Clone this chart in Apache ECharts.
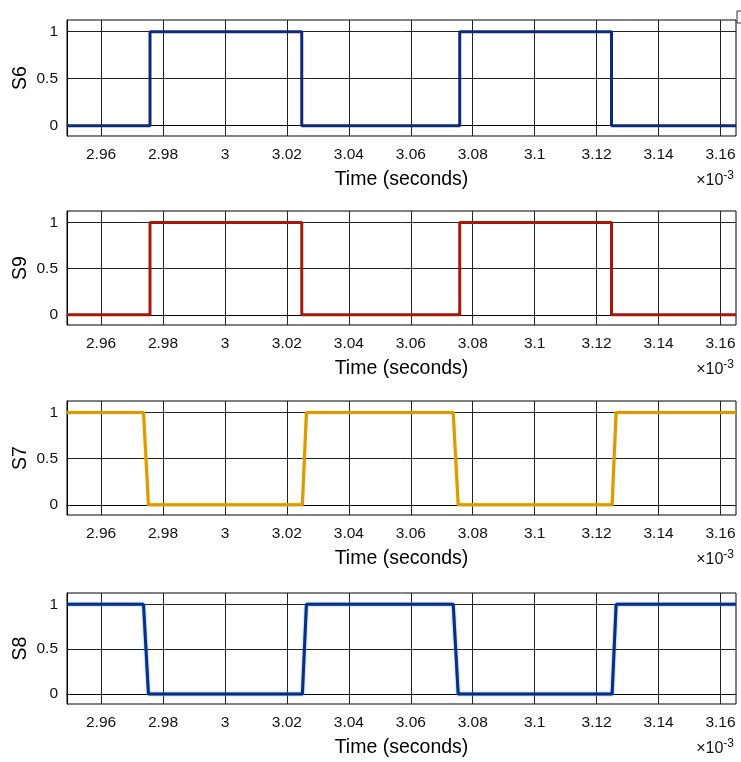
<!DOCTYPE html>
<html>
<head>
<meta charset="utf-8">
<script src="https://cdn.jsdelivr.net/npm/echarts@6/dist/echarts.min.js"></script>
<style>
  html, body { margin: 0; padding: 0; background: #fff; }
  #chart { width: 741px; height: 762px; }
</style>
</head>
<body>
<div id="chart"></div>
<script>
// Time axis in units of 1e-3 s
const xMin = 2.949;
const xMax = 3.165;
const xTicks = [2.96, 2.98, 3.00, 3.02, 3.04, 3.06, 3.08, 3.10, 3.12, 3.14, 3.16];
const yTicks = [0, 0.5, 1];

// Switching signals: breakpoints (time) and levels
const tS6 = [2.949, 2.9758, 2.9758, 3.0248, 3.0248, 3.0758, 3.0758, 3.1248, 3.1248, 3.165];
const vS6 = [0, 0, 1, 1, 0, 0, 1, 1, 0, 0];

const tS9 = [2.949, 2.9758, 2.9758, 3.0248, 3.0248, 3.0758, 3.0758, 3.1248, 3.1248, 3.165];
const vS9 = [0, 0, 1, 1, 0, 0, 1, 1, 0, 0];

const tS7 = [2.949, 2.9737, 2.9753, 3.0250, 3.0263, 3.0737, 3.0753, 3.1250, 3.1263, 3.165];
const vS7 = [1, 1, 0, 0, 1, 1, 0, 0, 1, 1];

const tS8 = [2.949, 2.9737, 2.9753, 3.0250, 3.0263, 3.0737, 3.0753, 3.1250, 3.1263, 3.165];
const vS8 = [1, 1, 0, 0, 1, 1, 0, 0, 1, 1];

const names = ['S6', 'S9', 'S7', 'S8'];
const times = [tS6, tS9, tS7, tS8];
const levels = [vS6, vS9, vS7, vS8];
const colors = ['#0c2a78', '#a8180a', '#d99a06', '#0a2f80'];

// panel layout
const panels = [
  { top: 20, height: 116 },
  { top: 211, height: 114 },
  { top: 401, height: 114 },
  { top: 593, height: 111 }
];
const left = 67, right = 5;
const font = 'Liberation Sans, Arial, Helvetica, sans-serif';

const fmt = v => String(+(+v).toFixed(2));

const grids = [], xAxes = [], yAxes = [], series = [], graphics = [];
panels.forEach((p, i) => {
  grids.push({
    left: left, right: right, top: p.top, height: p.height,
    containLabel: false, outerBoundsMode: 'none',
    show: true, borderColor: '#000', borderWidth: 1, backgroundColor: '#fff'
  });
  xAxes.push({
    type: 'value', gridIndex: i, min: xMin, max: xMax,
    name: 'Time (seconds)', nameLocation: 'middle', nameGap: 34,
    nameTextStyle: { fontFamily: font, fontSize: 19.5, color: '#000' },
    axisLine: { show: true, lineStyle: { color: '#000', width: 1 } },
    axisTick: { show: true, inside: true, length: 3, customValues: xTicks, lineStyle: { color: '#222' } },
    axisLabel: { customValues: xTicks, formatter: fmt, fontFamily: font, fontSize: 15.5, color: '#111', margin: 11 },
    splitLine: { show: true, lineStyle: { color: '#222', width: 1 } }
  });
  yAxes.push({
    type: 'value', gridIndex: i, min: -0.11, max: 1.125,
    axisLine: { show: true, lineStyle: { color: '#000', width: 1 } },
    axisTick: { show: true, inside: true, length: 3, customValues: yTicks, lineStyle: { color: '#222' } },
    axisLabel: { customValues: yTicks, formatter: fmt, fontFamily: font, fontSize: 15.5, color: '#111', margin: 9 },
    splitLine: { show: true, lineStyle: { color: '#222', width: 1 } }
  });
  const pts = times[i].map((t, k) => [t, levels[i][k]]);
  const ls = { color: colors[i], width: 3 };
  if (i === 3) { ls.shadowColor = 'rgba(60,140,230,0.9)'; ls.shadowBlur = 2; }
  if (i === 2) { ls.shadowColor = 'rgba(245,190,40,0.8)'; ls.shadowBlur = 1.5; }
  series.push({
    type: 'line', xAxisIndex: i, yAxisIndex: i, data: pts,
    showSymbol: false, symbol: 'none', animation: false,
    lineStyle: ls, clip: true
  });
  // vertical signal name beside each panel
  graphics.push({
    type: 'text', x: 21, y: p.top + p.height / 2, rotation: Math.PI / 2,
    style: {
      text: names[i], font: '19.5px ' + font, fill: '#000',
      align: 'center', verticalAlign: 'middle'
    }
  });
  // exponent marker under each time axis
  graphics.push({
    type: 'text', right: 7, top: p.top + p.height + 34,
    style: {
      text: '×10{sup|-3}',
      font: '16px ' + font, fill: '#111',
      rich: { sup: { fontSize: 12, fontFamily: font, fill: '#111', verticalAlign: 'top', padding: [0, 0, 9, 0] } }
    }
  });
});

// small bracket mark at the top-right corner
graphics.push({
  type: 'polyline',
  shape: { points: [[741, 11], [737, 11], [737, 23], [741, 23]] },
  style: { stroke: '#333', lineWidth: 1, fill: null }
});

const chart = echarts.init(document.getElementById('chart'), null, { renderer: 'canvas' });
chart.setOption({
  animation: false,
  backgroundColor: '#fff',
  grid: grids, xAxis: xAxes, yAxis: yAxes, series: series, graphic: graphics
});
</script>
</body>
</html>
